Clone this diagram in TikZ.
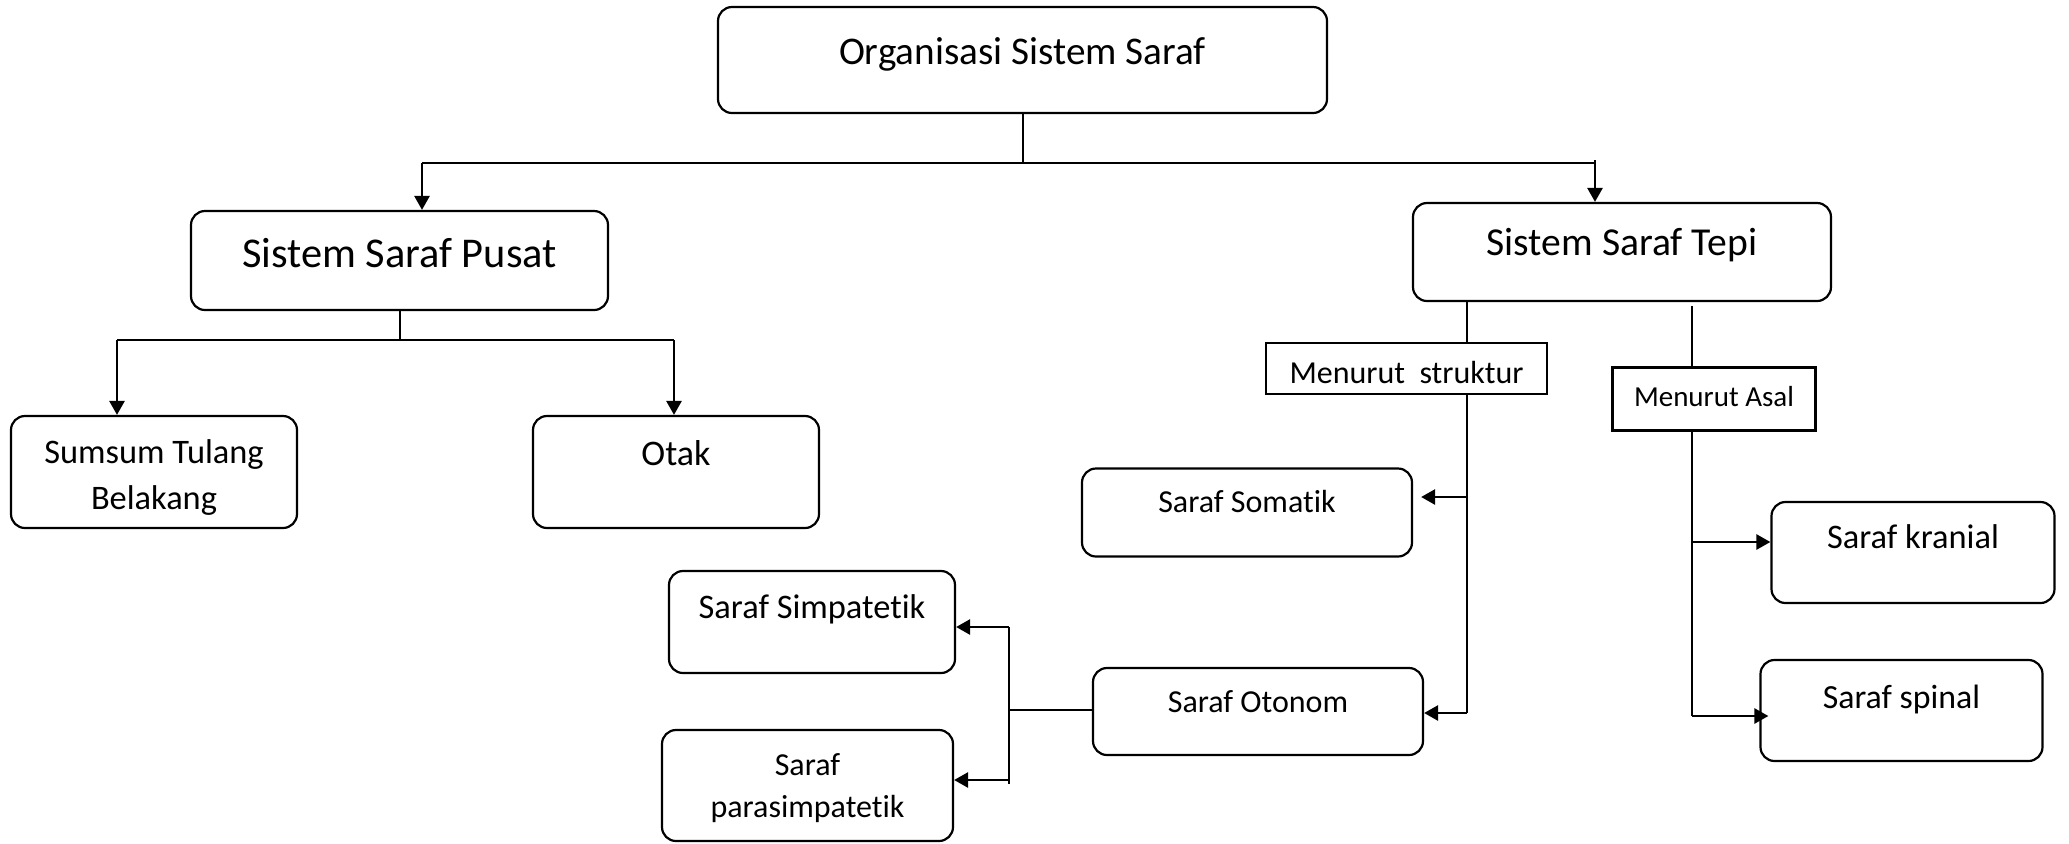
\documentclass[tikz,border=0pt]{standalone}
\usepackage{fontspec}
\setmainfont{Carlito}[Ligatures={CommonOff,ContextualOff}]
\usetikzlibrary{arrows.meta}
\begin{document}
\begin{tikzpicture}[x=0.5pt,y=-0.5pt,
  rbox/.style={draw, rounded corners=7pt, line width=1.1pt, inner sep=0pt},
  sbox/.style={draw, line width=1.05pt, inner sep=0pt},
  sz/.style 2 args={minimum width=#1*0.5pt, minimum height=#2*0.5pt},
  txt/.style={anchor=base, inner sep=0pt},
  fbig/.style={txt, font=\fontsize{19.8}{24}\selectfont},
  fmid/.style={txt, font=\fontsize{17.2}{21}\selectfont},
  fsml/.style={txt, font=\fontsize{16}{20}\selectfont},
  thinln/.style={line width=1pt},
  medln/.style={line width=1.05pt},
  thickln/.style={line width=1.3pt},
  arr/.style={line width=1.3pt, -{Triangle[length=7pt,width=7.5pt]}},
]
\useasboundingbox (0,0) rectangle (2069,843);

% boxes
\node[rbox, sz={609}{106}] (org) at (1022.5,60) {};
\node[rbox, sz={417}{99}] (pusat) at (399.5,260.5) {};
\node[rbox, sz={418}{98}] (tepi) at (1622,252) {};
\node[rbox, sz={286}{112}] (sumsum) at (154,472) {};
\node[rbox, sz={286}{112}] (otak) at (676,472) {};
\node[sbox, sz={281}{51}] (struk) at (1406.5,368.5) {};
\node[sbox, sz={203}{63}] (asal) at (1714,399) {};
\node[rbox, sz={330}{88}] (somatik) at (1247,512.5) {};
\node[rbox, sz={330}{87}] (otonom) at (1258,711.5) {};
\node[rbox, sz={286}{102}] (simpa) at (812,622) {};
\node[rbox, sz={291}{111}] (para) at (807.5,785.5) {};
\node[rbox, sz={283}{101}] (kranial) at (1913,552.5) {};
\node[rbox, sz={282}{101}] (spinal) at (1901.5,710.5) {};

% texts
\node[txt, font=\fontsize{19.6}{24}\selectfont] (orgT) at (1022.5,64) {Organisasi Sistem Saraf};
\node[txt, font=\fontsize{21.2}{25}\selectfont] (pusatT) at (399.5,267) {Sistem Saraf Pusat};
\node[fbig] (tepiT) at (1622,255) {Sistem Saraf Tepi};
\node[fmid] (sumsumT1) at (154,463) {Sumsum Tulang};
\node[fmid] (sumsumT2) at (154,509) {Belakang};
\node[txt, font=\fontsize{18}{22}\selectfont] (otakT) at (676,465) {Otak};
\node[fsml] (strukT) at (1406.5,383) {Menurut\ \ struktur};
\node[txt, font=\fontsize{14.5}{18}\selectfont] (asalT) at (1714,406) {Menurut Asal};
\node[fsml] (somatikT) at (1247,512) {Saraf Somatik};
\node[fmid] (kranialT) at (1913,548) {Saraf kranial};
\node[txt, font=\fontsize{16.9}{20}\selectfont] (spinalT) at (1901.5,708) {Saraf spinal};
\node[fmid] (simpaT) at (812,618) {Saraf Simpatetik};
\node[fsml] (paraT1) at (807.5,775) {Saraf};
\node[fsml] (paraT2) at (807.5,817) {parasimpatetik};
\node[fsml] (otonomT) at (1258,712) {Saraf Otonom};

% top level connectors
\draw[thinln] (org.south) -- (org.south |- 0,163) coordinate (j0);
\coordinate (jL) at (422,163);
\coordinate (jR) at (1595,163);
\draw[thickln] (jL) -- (jR);
\draw[arr] (jL) -- (jL |- pusat.north);
\draw[arr] ([yshift=1.5pt]jR) -- (jR |- tepi.north);

% pusat
\draw[thinln] (pusat.south) -- (pusat.south |- 0,340) coordinate (pj);
\coordinate (pjL) at (117,340);
\coordinate (pjR) at (674,340);
\draw[thickln] (pjL) -- (pjR);
\draw[arr] (pjL) -- (pjL |- sumsum.north);
\draw[arr] (pjR) -- (pjR |- otak.north);

% tepi - menurut struktur
\coordinate (sx) at (1467,0);
\draw[thinln] (sx |- tepi.south) -- (sx |- struk.north);
\draw[thinln] (sx |- struk.south) -- (sx |- 0,713) coordinate (so);
\draw[arr, shorten >=4pt] (sx |- 0,497) -- (somatik.east |- 0,497);
\draw[arr] (so) -- (otonom.east |- so);

% tepi - menurut asal
\coordinate (ax) at (1692,0);
\draw[medln] (ax |- 0,306) -- (ax |- asal.north);
\draw[medln] (ax |- asal.south) -- (ax |- 0,716) coordinate (ab);
\draw[arr] (ax |- 0,542) -- (kranial.west |- 0,542);
\draw[arr, shorten >=-4.5pt] (ab) -- (spinal.west |- ab);

% otonom
\coordinate (ox) at (1009,0);
\draw[medln] (otonom.west |- 0,710) -- (ox |- 0,710);
\draw[medln] (ox |- 0,627) -- (ox |- 0,784);
\draw[arr] (ox |- 0,627) -- (simpa.east |- 0,627);
\draw[arr] (ox |- 0,780) -- (para.east |- 0,780);
\end{tikzpicture}
\end{document}
